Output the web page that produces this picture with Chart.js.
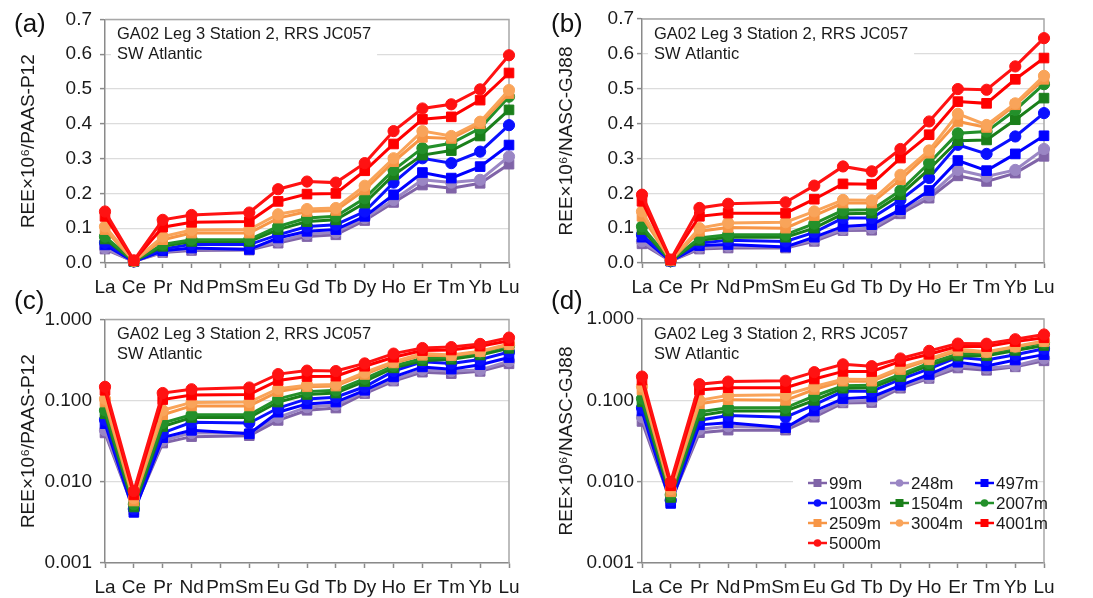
<!DOCTYPE html>
<html>
<head>
<meta charset="utf-8">
<script src="https://cdn.jsdelivr.net/npm/chart.js@4.4.1/dist/chart.umd.min.js"></script>
<style>
  html, body { margin: 0; padding: 0; background: #fff; }
  #fig { position: relative; width: 1093px; height: 598px; font-family: 'Liberation Sans', Arial, sans-serif; }
  .panel { position: absolute; }
  .tag { position: absolute; font-size: 26px; color: #111; line-height: 26px; }
</style>
</head>
<body>
<div id="fig">
  <div class="panel" style="left:0;top:0"><canvas id="ca" width="546" height="300"></canvas></div>
  <div class="panel" style="left:546px;top:0"><canvas id="cb" width="547" height="300"></canvas></div>
  <div class="panel" style="left:0;top:300px"><canvas id="cc" width="546" height="298"></canvas></div>
  <div class="panel" style="left:546px;top:300px"><canvas id="cd" width="547" height="298"></canvas></div>
  <div class="tag" style="left:14px;top:10px">(a)</div>
  <div class="tag" style="left:551px;top:10px">(b)</div>
  <div class="tag" style="left:14px;top:287px">(c)</div>
  <div class="tag" style="left:551px;top:287px">(d)</div>
</div>
<script>
const categories = ['La', 'Ce', 'Pr', 'Nd', 'Pm', 'Sm', 'Eu', 'Gd', 'Tb', 'Dy', 'Ho', 'Er', 'Tm', 'Yb', 'Lu'];
const depths = ['99m', '248m', '497m', '1003m', '1504m', '2007m', '2509m', '3004m', '4001m', '5000m'];
const linearTicks = [0, 0.1, 0.2, 0.3, 0.4, 0.5, 0.6, 0.7];
const logTicks = [0.001, 0.01, 0.1, 1];
const noteLines = ['GA02 Leg 3 Station 2, RRS JC057', 'SW Atlantic'];

// PAAS-P12 normalised (panels a, c); Pm not measured
const paas99   = [0.040, 0.0045, 0.030, 0.036, null, 0.037, 0.057, 0.076, 0.081, 0.122, 0.174, 0.224, 0.215, 0.229, 0.284];
const paas248  = [0.043, 0.0047, 0.032, 0.040, null, 0.040, 0.062, 0.083, 0.088, 0.129, 0.181, 0.239, 0.231, 0.239, 0.306];
const paas497  = [0.052, 0.0042, 0.035, 0.043, null, 0.039, 0.072, 0.091, 0.096, 0.134, 0.196, 0.260, 0.244, 0.277, 0.339];
const paas1003 = [0.058, 0.0046, 0.040, 0.054, null, 0.053, 0.081, 0.105, 0.110, 0.148, 0.231, 0.301, 0.287, 0.320, 0.396];
const paas1504 = [0.069, 0.0049, 0.048, 0.062, null, 0.062, 0.096, 0.119, 0.124, 0.172, 0.253, 0.310, 0.323, 0.365, 0.440];
const paas2007 = [0.076, 0.0053, 0.053, 0.067, null, 0.067, 0.105, 0.129, 0.134, 0.186, 0.267, 0.330, 0.344, 0.387, 0.478];
const paas2509 = [0.096, 0.0058, 0.067, 0.086, null, 0.086, 0.129, 0.148, 0.151, 0.210, 0.291, 0.361, 0.358, 0.400, 0.487];
const paas3004 = [0.105, 0.0063, 0.076, 0.095, null, 0.096, 0.140, 0.155, 0.158, 0.222, 0.301, 0.379, 0.365, 0.406, 0.497];
const paas4001 = [0.134, 0.0069, 0.103, 0.117, null, 0.119, 0.177, 0.198, 0.200, 0.265, 0.342, 0.413, 0.420, 0.468, 0.546];
const paas5000 = [0.148, 0.0077, 0.124, 0.138, null, 0.145, 0.212, 0.234, 0.231, 0.287, 0.379, 0.444, 0.456, 0.499, 0.597];

// NASC-GJ88 normalised (panels b, d)
const nasc99   = [0.055, 0.0057, 0.040, 0.043, null, 0.043, 0.062, 0.093, 0.094, 0.141, 0.186, 0.250, 0.234, 0.258, 0.306];
const nasc248  = [0.062, 0.0059, 0.044, 0.048, null, 0.046, 0.067, 0.097, 0.100, 0.148, 0.193, 0.267, 0.248, 0.267, 0.327];
const nasc497  = [0.074, 0.0054, 0.050, 0.053, null, 0.046, 0.074, 0.105, 0.110, 0.153, 0.208, 0.294, 0.265, 0.313, 0.365];
const nasc1003 = [0.081, 0.0059, 0.057, 0.065, null, 0.062, 0.088, 0.129, 0.129, 0.181, 0.244, 0.339, 0.313, 0.363, 0.430];
const nasc1504 = [0.096, 0.0064, 0.065, 0.074, null, 0.074, 0.100, 0.141, 0.143, 0.196, 0.269, 0.351, 0.353, 0.411, 0.473];
const nasc2007 = [0.105, 0.0069, 0.072, 0.081, null, 0.081, 0.113, 0.151, 0.153, 0.208, 0.287, 0.372, 0.377, 0.439, 0.513];
const nasc2509 = [0.134, 0.0075, 0.091, 0.102, null, 0.100, 0.136, 0.172, 0.172, 0.239, 0.315, 0.406, 0.389, 0.454, 0.527];
const nasc3004 = [0.148, 0.0081, 0.100, 0.115, null, 0.117, 0.148, 0.181, 0.180, 0.253, 0.323, 0.428, 0.396, 0.458, 0.537];
const nasc4001 = [0.177, 0.0089, 0.134, 0.143, null, 0.143, 0.183, 0.227, 0.226, 0.301, 0.368, 0.463, 0.458, 0.527, 0.588];
const nasc5000 = [0.196, 0.0099, 0.158, 0.170, null, 0.174, 0.222, 0.277, 0.263, 0.327, 0.406, 0.499, 0.497, 0.564, 0.645];

const paasSeries = [paas99, paas248, paas497, paas1003, paas1504, paas2007, paas2509, paas3004, paas4001, paas5000];
const nascSeries = [nasc99, nasc248, nasc497, nasc1003, nasc1504, nasc2007, nasc2509, nasc3004, nasc4001, nasc5000];

const seriesColors = ['#8064a8', '#9a86c4', '#0000ff', '#0a10ff', '#1a7f1a', '#23902a', '#f79646', '#f9a45a', '#ff0000', '#ff1212'];
const seriesMarkers = ['rect', 'circle', 'rect', 'circle', 'rect', 'circle', 'rect', 'circle', 'rect', 'circle'];

const FONT = "'Liberation Sans', Arial, sans-serif";
const TEXT = '#1a1a1a';
const AXIS = '#8a8a8a';

function buildDatasets(series) {
  return series.map((vals, i) => ({
    label: depths[i],
    data: vals,
    borderColor: seriesColors[i],
    backgroundColor: seriesColors[i],
    pointBackgroundColor: seriesColors[i],
    pointBorderColor: seriesColors[i],
    pointStyle: seriesMarkers[i],
    pointRadius: seriesMarkers[i] === 'rect' ? 6.8 : 5.6,
    pointBorderWidth: 1,
    borderWidth: 3,
    spanGaps: true,
    clip: false,
    tension: 0,
    order: series.length - 1 - i,
  }));
}

function drawMarker(ctx, style, x, y, r, color) {
  ctx.fillStyle = color;
  ctx.beginPath();
  if (style === 'rect') {
    ctx.rect(x - r, y - r, 2 * r, 2 * r);
  } else {
    ctx.arc(x, y, r, 0, Math.PI * 2);
  }
  ctx.fill();
}

// frame + station note (white box hides the grid behind it)
const notePlugin = {
  id: 'note',
  beforeDatasetsDraw(chart) {
    const { ctx, chartArea: a } = chart;
    ctx.save();
    ctx.strokeStyle = '#a8a8a8';
    ctx.lineWidth = 1.5;
    ctx.beginPath();
    ctx.moveTo(a.left, a.top);
    ctx.lineTo(a.right, a.top);
    ctx.lineTo(a.right, a.bottom);
    ctx.stroke();

    ctx.font = '16.5px ' + FONT;
    const w = Math.max(...noteLines.map(l => ctx.measureText(l).width));
    ctx.fillStyle = '#fff';
    ctx.fillRect(a.left + 6, a.top + 4, w + 12, 44);
    ctx.fillStyle = TEXT;
    ctx.textBaseline = 'middle';
    noteLines.forEach((l, i) => ctx.fillText(l, a.left + 12, a.top + 15 + i * 20));
    ctx.restore();
  }
};

// three-column legend inside panel (d)
const legendPlugin = {
  id: 'boxLegend',
  afterDatasetsDraw(chart, args, opts) {
    if (!opts.show) return;
    const { ctx, chartArea: a } = chart;
    const x0 = a.left + 166, y0 = a.top + 164;
    const colW = [0, 82, 167];
    ctx.save();
    ctx.fillStyle = '#fff';
    ctx.fillRect(a.left + 151, a.top + 151, 242, 85);
    ctx.font = '17px ' + FONT;
    ctx.textBaseline = 'middle';
    depths.forEach((d, i) => {
      const x = x0 + colW[i % 3];
      const y = y0 + Math.floor(i / 3) * 20;
      ctx.strokeStyle = seriesColors[i];
      ctx.lineWidth = 2.5;
      ctx.beginPath();
      ctx.moveTo(x, y);
      ctx.lineTo(x + 19, y);
      ctx.stroke();
      drawMarker(ctx, seriesMarkers[i], x + 9.5, y, seriesMarkers[i] === 'rect' ? 4 : 3.8, seriesColors[i]);
      ctx.fillStyle = TEXT;
      ctx.fillText(d, x + 21, y + 1);
    });
    ctx.restore();
  }
};

function makeChart(id, series, cfg) {
  const tickVals = cfg.log ? logTicks : linearTicks;
  return new Chart(document.getElementById(id), {
    type: 'line',
    data: { labels: categories, datasets: buildDatasets(series) },
    plugins: [notePlugin, legendPlugin],
    options: {
      responsive: false,
      animation: false,
      events: [],
      layout: { padding: { top: 19, right: cfg.right, left: 0, bottom: 0 } },
      plugins: {
        legend: { display: false },
        tooltip: { enabled: false },
        boxLegend: { show: !!cfg.legend },
      },
      scales: {
        x: {
          type: 'category',
          offset: false,
          grid: { drawOnChartArea: false, tickLength: 5, tickColor: AXIS, tickWidth: 1.5 },
          border: { color: AXIS, width: 1.5 },
          ticks: { font: { family: FONT, size: 19 }, color: TEXT, padding: 8, maxRotation: 0, autoSkip: false },
          afterFit: s => { s.height = cfg.xHeight; },
        },
        y: {
          type: cfg.log ? 'logarithmic' : 'linear',
          min: tickVals[0],
          max: tickVals[tickVals.length - 1],
          afterBuildTicks: s => { s.ticks = tickVals.map(v => ({ value: v })); },
          grid: { color: '#dcdcdc', lineWidth: 1.2, tickLength: 5, tickColor: AXIS, tickWidth: 1.5 },
          border: { color: AXIS, width: 1.5 },
          ticks: {
            font: { family: FONT, size: 19 },
            color: TEXT,
            padding: cfg.tickPad,
            callback: v => cfg.log ? Number(v).toFixed(3) : Number(v).toFixed(1),
          },
          title: {
            display: true,
            text: cfg.title,
            font: { family: FONT, size: 19 },
            color: TEXT,
            padding: { top: cfg.titlePad, bottom: 0 },
          },
          afterFit: s => { s.width = cfg.axisWidth; },
        },
      },
    },
  });
}

makeChart('ca', paasSeries, { log: false, title: 'REE×10⁶/PAAS-P12', axisWidth: 105, right: 37, xHeight: 37, tickPad: 8, titlePad: 17 });
makeChart('cb', nascSeries, { log: false, title: 'REE×10⁶/NASC-GJ88', axisWidth: 96, right: 49, xHeight: 37, tickPad: 3, titlePad: 9 });
makeChart('cc', paasSeries, { log: true, title: 'REE×10⁶/PAAS-P12', axisWidth: 105, right: 37, xHeight: 35, tickPad: 8, titlePad: 17 });
makeChart('cd', nascSeries, { log: true, title: 'REE×10⁶/NASC-GJ88', axisWidth: 96, right: 49, xHeight: 35, tickPad: 3, titlePad: 9, legend: true });
</script>
</body>
</html>
